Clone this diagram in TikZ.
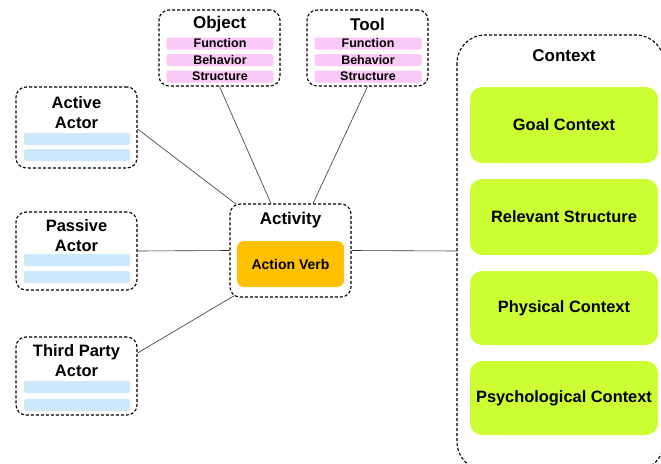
\documentclass[tikz,border=0pt]{standalone}
\usepackage{fontspec}
\setmainfont{Liberation Sans}
\usepackage{xcolor}
\usepackage{tikz}
\usetikzlibrary{positioning,calc}
\definecolor{pinkbar}{HTML}{FBC9F5}
\definecolor{bluebar}{HTML}{CCE8FA}
\definecolor{verb}{HTML}{FFC000}
\definecolor{lime}{HTML}{CCFF33}
\tikzset{
  unit/.style={draw=black, densely dashed, line width=1.1pt, rounded corners=#1, fill=white,
               minimum width=121pt, inner sep=0pt},
  unit/.default=10pt,
  ttl/.style={font=\fontsize{16.5}{20}\selectfont\bfseries, align=center, inner sep=0pt},
  pbar/.style={fill=pinkbar, rounded corners=2pt, minimum width=107pt, minimum height=12pt,
               inner sep=0pt, font=\fontsize{12.5}{12.5}\selectfont\bfseries},
  bbar/.style={fill=bluebar, rounded corners=2pt, minimum width=106pt, minimum height=12pt, inner sep=0pt},
  ctx/.style={fill=lime, rounded corners=12pt, minimum width=188pt, inner sep=0pt,
              font=\fontsize{16.4}{16.4}\selectfont\bfseries},
  link/.style={draw=black!80, line width=0.6pt},
}
\begin{document}
\begin{tikzpicture}[x=1pt, y=-1pt]
  \useasboundingbox (0,0) rectangle (661,463);

  % --- object and tool
  \node[unit, minimum height=76pt] (obj) at (219.5,48) {};
  \node[ttl, font=\fontsize{17}{17}\selectfont\bfseries] (objT) at (219.5,24) {Object};
  \node[unit, minimum height=76pt] (tool) at (367.5,48) {};
  \node[ttl, font=\fontsize{17}{17}\selectfont\bfseries] (toolT) at (367.5,24) {Tool};
  \foreach \b/\y/\t in {f/43.5/Function, b/60/Behavior, s/76.5/Structure}{
    \node[pbar] (obj\b) at (220,\y) {\t};
    \node[pbar] (tool\b) at (368,\y) {\t};
  }

  % --- actors
  \node[unit, minimum height=81pt] (act) at (76.5,127.5) {};
  \node[ttl] (actT) at (76.5,112.5) {Active\\Actor};
  \node[bbar] (act1) at (77,139) {};
  \node[bbar] (act2) at (77,155) {};
  \node[unit, minimum height=78pt] (pas) at (76.5,251) {};
  \node[ttl] (pasT) at (76.5,235.5) {Passive\\Actor};
  \node[bbar] (pas1) at (77,260) {};
  \node[bbar] (pas2) at (77,277) {};
  \node[unit, minimum height=78pt] (thr) at (76.5,376) {};
  \node[ttl] (thrT) at (76.5,360.5) {Third Party\\Actor};
  \node[bbar] (thr1) at (77,387) {};
  \node[bbar] (thr2) at (77,405) {};

  % --- activity
  \node[unit, minimum height=93pt] (acty) at (290.5,250.5) {};
  \node[ttl, font=\fontsize{17}{17}\selectfont\bfseries] (actyT) at (290.5,220) {Activity};
  \node[fill=verb, rounded corners=7pt, minimum width=107pt, minimum height=46pt, inner sep=0pt,
        font=\fontsize{14}{14}\selectfont\bfseries] (verbN) at (290.5,264) {Action Verb};

  % --- context
  \draw[unit=28pt] (457,35) rectangle (664,470);
  \coordinate (ctxW) at (457,251);
  \node[ttl, font=\fontsize{17}{17}\selectfont\bfseries] (ctxT) at (564,56) {Context};
  \node[ctx, minimum height=76pt] (goal) at (564,125) {Goal Context};
  \node[ctx, minimum height=76pt] (rel) at (564,217) {Relevant Structure};
  \node[ctx, minimum height=74pt] (phys) at (564,308) {Physical Context};
  \node[ctx, minimum height=74pt] (psy) at (564,398) {Psychological Context};

  % --- links
  \draw[link] ([yshift=-1.5pt]act.east) -- ([xshift=7pt,yshift=-1pt]acty.north west);
  \draw[link] (obj.south) -- ([xshift=-19.5pt]acty.north);
  \draw[link] (tool.south) -- ([xshift=22.5pt]acty.north);
  \draw[link] (pas.east) -- (acty.west);
  \draw[link] ([yshift=23pt]thr.east) -- ([xshift=5pt,yshift=2pt]acty.south west);
  \draw[link] (acty.east) -- (ctxW);
\end{tikzpicture}
\end{document}
